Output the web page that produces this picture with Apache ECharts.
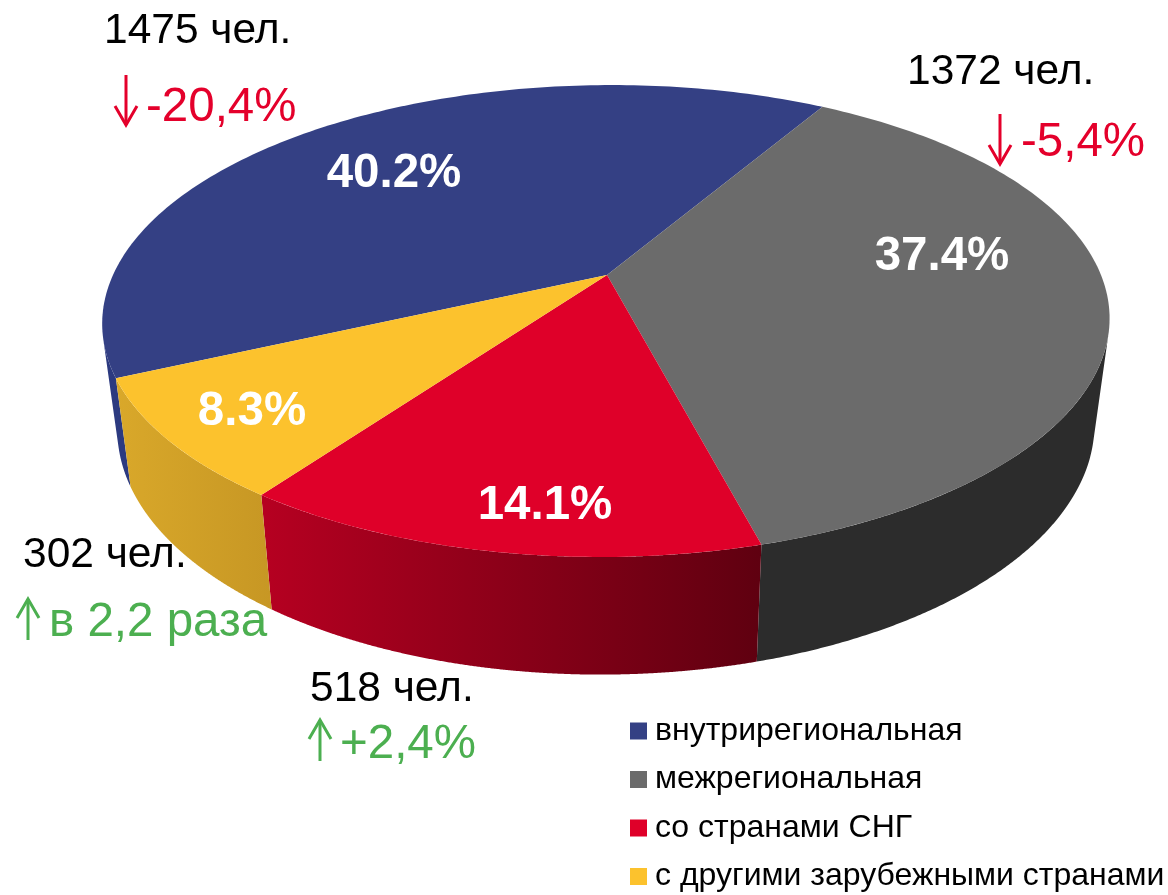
<!DOCTYPE html>
<html lang="ru" style="height: 100%">
<head>
    <meta charset="utf-8"/>
    <title>Миграция</title>
    <script src="https://cdn.jsdelivr.net/npm/echarts@6/dist/echarts.min.js"></script>
</head>
<body style="height: 100%; margin: 0; background: #fff">
<div id="container" style="width: 1168px; height: 895px"></div>
<script type="text/javascript">
    // данные
    var categories = ['внутрирегиональная', 'межрегиональная', 'со странами СНГ', 'с другими зарубежными странами'];
    var shares = [40.2, 37.4, 14.1, 8.3];
    var people = [1475, 1372, 518, 302];
    var changes = ['-20,4%', '-5,4%', '+2,4%', 'в 2,2 раза'];

    var topColors = ['#344084', '#6b6b6b', '#df0029', '#fcc22d'];
    var wallColors = [
        ['#2c3a80', '#2c3a80'],
        ['#2c2c2c', '#2c2c2c'],
        ['#b60021', '#5f0010'],
        ['#d9a82a', '#c79724']
    ];
    var RED = '#e4002b', GREEN = '#4caf50';
    var FONT = '"Liberation Sans", Arial, sans-serif';

    // проекция круга с перспективой
    var CX = 607, CY = 275, RX = 494, RY = 227, K = 0.195, SKEW = -5.5;
    var START = 245.3;
    var DROP_Y = 378.5, WALL_SX = 0.97, WALL_SY = 1.05;
    var total = shares.reduce(function (a, b) { return a + b; }, 0);

    function project(deg, bottom) {
        var t = deg * Math.PI / 180;
        var u = Math.sin(t), v = -Math.cos(t), w = 1 - K * v;
        var dx = (RX * u + SKEW * v) / w, dy = RY * v / w;
        if (bottom) {
            return [CX + WALL_SX * dx, DROP_Y + WALL_SY * dy];
        }
        return [CX + dx, CY + dy];
    }

    function startOf(i) {
        var sum = 0;
        for (var j = 0; j < i; j++) sum += shares[j];
        return START + sum / total * 360;
    }

    // видна ли стенка под этой точкой дуги
    function facesViewer(deg) {
        var p = project(deg, false), q = project(deg + 0.1, false), b = project(deg, true);
        return (q[0] - p[0]) * (b[1] - p[1]) - (q[1] - p[1]) * (b[0] - p[0]) < 0;
    }

    function renderTop(i) {
        return function (params, api) {
            var a0 = startOf(i), a1 = a0 + api.value(0) / total * 360;
            var pts = [[CX, CY]], n = Math.ceil(a1 - a0);
            for (var s = 0; s <= n; s++) {
                pts.push(project(a0 + (a1 - a0) * s / n, false));
            }
            return {
                type: 'polygon',
                shape: {points: pts},
                style: {fill: topColors[i]}
            };
        };
    }

    function renderWall(i) {
        return function (params, api) {
            var a0 = startOf(i), a1 = a0 + api.value(0) / total * 360;
            var top = [], low = [], step = (a1 - a0) / 400;
            for (var s = 0; s <= 400; s++) {
                var deg = a0 + step * s;
                if (facesViewer(deg)) {
                    top.push(project(deg, false));
                    low.unshift(project(deg, true));
                }
            }
            return {
                type: 'polygon',
                shape: {points: top.concat(low)},
                style: {
                    fill: new echarts.graphic.LinearGradient(0, 0, 1, 0, [
                        {offset: 0, color: wallColors[i][0]},
                        {offset: 1, color: wallColors[i][1]}
                    ])
                }
            };
        };
    }

    var series = [];
    shares.forEach(function (v, i) {
        series.push({
            type: 'custom', name: 'wall' + i, coordinateSystem: 'none', z: 1,
            silent: true, data: [v], renderItem: renderWall(i)
        });
    });
    shares.forEach(function (v, i) {
        series.push({
            type: 'custom', name: categories[i], coordinateSystem: 'none', z: 2,
            silent: true, data: [v], renderItem: renderTop(i),
            itemStyle: {color: topColors[i]}
        });
    });

    function label(text, x, y, size, color, bold, align) {
        return {
            type: 'text', z: 10, silent: true,
            style: {
                text: text, x: x, y: y, fill: color,
                font: (bold ? 'bold ' : '') + size + 'px ' + FONT,
                textAlign: align || 'left', textVerticalAlign: 'middle'
            }
        };
    }

    function arrow(x, y0, y1, color) {
        var headY = y1 > y0 ? y1 - 19 : y1 + 19;
        return {
            type: 'group', z: 10, silent: true,
            children: [
                {type: 'line', shape: {x1: x, y1: y0, x2: x, y2: y1}, style: {stroke: color, lineWidth: 3}},
                {
                    type: 'polyline',
                    shape: {points: [[x - 11, headY], [x, y1], [x + 11, headY]]},
                    style: {fill: 'none', stroke: color, lineWidth: 3}
                }
            ]
        };
    }

    function pct(i) {
        return shares[i].toFixed(1) + '%';
    }

    var graphics = [
        label(pct(0), 394, 174, 47.5, '#fff', true, 'center'),
        label(pct(1), 942, 257, 47.5, '#fff', true, 'center'),
        label(pct(2), 545, 506, 47.5, '#fff', true, 'center'),
        label(pct(3), 252, 412, 47.5, '#fff', true, 'center'),

        label(people[0] + ' чел.', 104, 31, 42.5, '#000'),
        label(changes[0], 146, 108, 47.5, RED),
        arrow(126, 75, 125, RED),

        label(people[1] + ' чел.', 907, 72, 42.5, '#000'),
        label(changes[1], 1021, 143, 47.5, RED),
        arrow(1000, 114, 164, RED),

        label(people[2] + ' чел.', 310, 689.5, 42.5, '#000'),
        label(changes[2], 340, 745, 47.5, GREEN),
        arrow(320, 761, 720, GREEN),

        label(people[3] + ' чел.', 23, 555.5, 42.5, '#000'),
        label(changes[3], 49, 623, 47.5, GREEN),
        arrow(28, 640, 599, GREEN)
    ];

    var myChart = echarts.init(document.getElementById('container'));
    myChart.setOption({
        animation: false,
        backgroundColor: '#fff',
        legend: {
            data: categories,
            orient: 'vertical',
            left: 630,
            top: 715,
            padding: 0,
            icon: 'rect',
            itemWidth: 17,
            itemHeight: 17,
            itemGap: 16.5,
            selectedMode: false,
            textStyle: {
                color: '#000',
                fontFamily: FONT,
                fontSize: 32,
                padding: [0, 0, 0, 3]
            }
        },
        series: series,
        graphic: {elements: graphics}
    });
</script>
</body>
</html>
